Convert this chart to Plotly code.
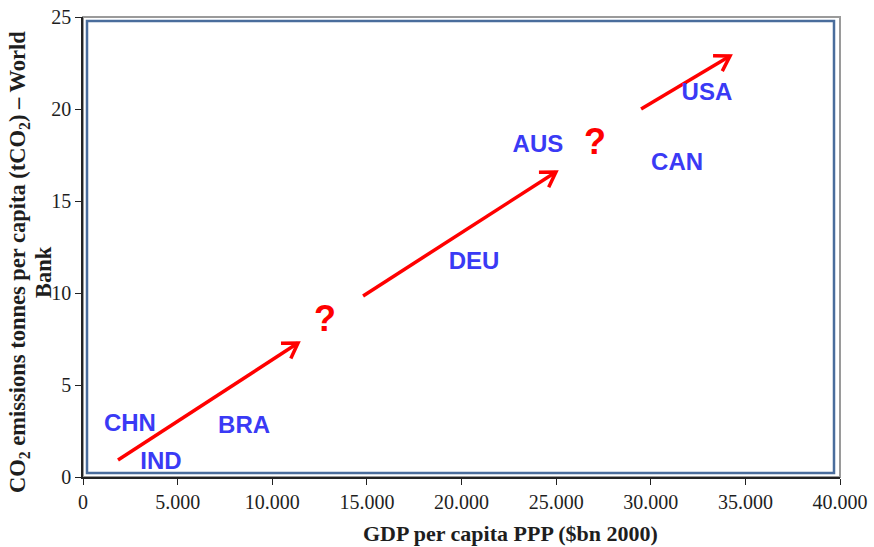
import math
import plotly.graph_objects as go

# Country labels placed at (GDP per capita, CO2 per capita)
countries = ["CHN", "IND", "BRA", "DEU", "AUS", "CAN", "USA"]
country_gdp = [2480, 4120, 8510, 20660, 24040, 31390, 32970]
country_co2 = [2.8, 0.75, 2.7, 11.65, 18.0, 17.02, 20.83]

# Open questions along the development path
question_gdp = [12790, 27050]
question_co2 = [8.4, 18.05]

# Development path arrows (tail -> head)
arrow_gdp_start = [1850, 14800, 29490]
arrow_co2_start = [0.92, 9.84, 20.0]
arrow_gdp_end = [11360, 24990, 34190]
arrow_co2_end = [7.28, 16.58, 22.88]

x_ticks = [0, 5000, 10000, 15000, 20000, 25000, 30000, 35000, 40000]
y_ticks = [0, 5, 10, 15, 20, 25]
X_RANGE = [0, 40000]
Y_RANGE = [0, 25]

SERIF = "Liberation Serif"
BLUE = "#3a3af5"
RED = "#ff0000"
TEXT = "#1e1e1e"

W, H = 874, 547
M_L, M_R, M_T, M_B = 83, 34, 17, 70
PLOT_W = W - M_L - M_R
PLOT_H = H - M_T - M_B

fig = go.Figure()

# Arrow shafts plus open "V" heads, built as one broken polyline
px_per_x = PLOT_W / (X_RANGE[1] - X_RANGE[0])
px_per_y = PLOT_H / (Y_RANGE[1] - Y_RANGE[0])
HEAD_LEN = 17
HEAD_ANGLE = math.radians(32)
line_x, line_y = [], []
for x0, y0, x1, y1 in zip(arrow_gdp_start, arrow_co2_start, arrow_gdp_end, arrow_co2_end):
    line_x += [x0, x1, None]
    line_y += [y0, y1, None]
    back = math.atan2(-(y1 - y0) * px_per_y, (x1 - x0) * px_per_x) + math.pi
    wings = []
    for sign in (-1, 1):
        a = back + sign * HEAD_ANGLE
        wings.append((x1 + HEAD_LEN * math.cos(a) / px_per_x,
                      y1 - HEAD_LEN * math.sin(a) / px_per_y))
    line_x += [wings[0][0], x1, wings[1][0], None]
    line_y += [wings[0][1], y1, wings[1][1], None]

fig.add_trace(go.Scatter(
    x=line_x, y=line_y, mode="lines", line=dict(color=RED, width=3.5),
    hoverinfo="skip", showlegend=False, connectgaps=False,
))

fig.add_trace(go.Scatter(
    x=country_gdp, y=country_co2, mode="text", text=countries,
    textfont=dict(family="Liberation Sans", size=24, color=BLUE),
    texttemplate="<b>%{text}</b>", hoverinfo="skip", showlegend=False,
))
fig.add_trace(go.Scatter(
    x=question_gdp, y=question_co2, mode="text", text=["?"] * len(question_gdp),
    textfont=dict(family="Liberation Sans", size=36, color=RED),
    texttemplate="<b>%{text}</b>", hoverinfo="skip", showlegend=False,
))

# Outer frame: grey top/right, dark left/bottom axes
fig.add_shape(type="rect", xref="paper", yref="paper", x0=0, y0=0, x1=1, y1=1,
              line=dict(color="#9a9a9a", width=2), layer="below")
# Inner blue border of the plot area
fig.add_shape(type="rect", xref="paper", yref="paper",
              x0=4 / PLOT_W, y0=4 / PLOT_H, x1=1 - 6 / PLOT_W, y1=1 - 4 / PLOT_H,
              line=dict(color="#4a6d9c", width=2.5), layer="below")

axis_common = dict(
    showgrid=False, zeroline=False, showline=True, linecolor="#222222",
    linewidth=1.5, ticks="outside", ticklen=6, tickcolor="#222222",
    tickfont=dict(family=SERIF, size=20, color=TEXT), automargin=False,
)

fig.update_layout(
    width=W, height=H,
    margin=dict(l=M_L, r=M_R, t=M_T, b=M_B, autoexpand=False),
    paper_bgcolor="white", plot_bgcolor="white",
    separators=",.",
    showlegend=False,
    font=dict(family=SERIF, size=20, color=TEXT),
    xaxis=dict(range=X_RANGE, tickvals=x_ticks, tickformat=",d", **axis_common),
    yaxis=dict(range=Y_RANGE, tickvals=y_ticks, **axis_common),
)

fig.add_annotation(
    text="<b>GDP per capita PPP ($bn 2000)</b>", xref="paper", yref="paper",
    x=(510 - M_L) / PLOT_W, y=-(533 - (H - M_B)) / PLOT_H,
    xanchor="center", yanchor="middle", showarrow=False,
    font=dict(family=SERIF, size=22, color=TEXT),
)
fig.add_annotation(
    text="<b>CO<sub>2</sub> emissions tonnes per capita (tCO<sub>2</sub>) – World</b>",
    xref="paper", yref="paper", x=-(M_L - 19) / PLOT_W, y=((H - M_B) - 262) / PLOT_H,
    xanchor="center", yanchor="middle", textangle=-90, showarrow=False,
    font=dict(family=SERIF, size=22.5, color=TEXT),
)
fig.add_annotation(
    text="<b>Bank</b>", xref="paper", yref="paper",
    x=-(M_L - 43) / PLOT_W, y=((H - M_B) - 272) / PLOT_H,
    xanchor="center", yanchor="middle", textangle=-90, showarrow=False,
    font=dict(family=SERIF, size=22.5, color=TEXT),
)

fig.write_html("out.html")
